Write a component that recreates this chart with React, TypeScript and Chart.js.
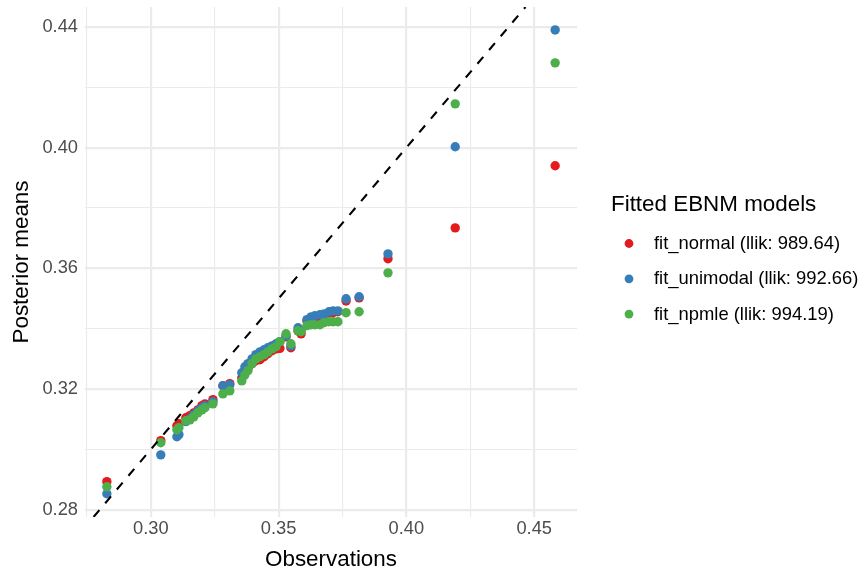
import React, { useEffect, useRef } from "react";
import { Chart, registerables } from "chart.js";

Chart.register(...registerables);

// ---- data ----
const observations = [
  0.2828, 0.3039, 0.3102, 0.311, 0.3137, 0.3153, 0.3168, 0.3184, 0.32, 0.3212,
  0.3243, 0.3282, 0.3309, 0.3356, 0.3368, 0.338, 0.3396, 0.3411, 0.3427, 0.3443,
  0.3458, 0.3474, 0.349, 0.3505, 0.3529, 0.3548, 0.3576, 0.3588, 0.3611, 0.3627,
  0.3642, 0.3662, 0.3678, 0.3697, 0.3713, 0.3732, 0.3764, 0.3815, 0.3928, 0.4191,
  0.4582,
];
const fitNormal = [
  0.2893, 0.3029, 0.3078, 0.3085, 0.3105, 0.3112, 0.3121, 0.3131, 0.3145, 0.3151,
  0.3165, 0.3211, 0.3218, 0.3237, 0.3257, 0.3267, 0.3284, 0.3294, 0.3297, 0.3307,
  0.3317, 0.3327, 0.3333, 0.3335, 0.3373, 0.3337, 0.3393, 0.3383, 0.3426, 0.343,
  0.3436, 0.3439, 0.3446, 0.3453, 0.3453, 0.3456, 0.3492, 0.3502, 0.3632, 0.3734,
  0.394,
];
const fitUnimodal = [
  0.2853, 0.2982, 0.3042, 0.3049, 0.3092, 0.3102, 0.3115, 0.3128, 0.3138, 0.3145,
  0.3158, 0.3211, 0.3214, 0.3254, 0.3274, 0.3284, 0.33, 0.3314, 0.3323, 0.333,
  0.3337, 0.3343, 0.335, 0.3357, 0.3376, 0.3343, 0.3403, 0.3393, 0.343, 0.3439,
  0.3443, 0.3446, 0.3449, 0.3456, 0.3459, 0.3459, 0.3499, 0.3506, 0.3648, 0.4003,
  0.439,
];
const fitNpmle = [
  0.2876, 0.3022, 0.3065, 0.3072, 0.3095, 0.3098, 0.3108, 0.3121, 0.3131, 0.3138,
  0.3151, 0.3184, 0.3194, 0.3227, 0.3247, 0.3261, 0.3284, 0.33, 0.3307, 0.3314,
  0.3323, 0.3333, 0.334, 0.3357, 0.3383, 0.335, 0.3393, 0.339, 0.341, 0.3413,
  0.3413, 0.3413, 0.342, 0.3423, 0.3423, 0.3423, 0.3453, 0.3456, 0.3585, 0.4145,
  0.4281,
];
const seriesLabels = [
  "fit_normal (llik: 989.64)",
  "fit_unimodal (llik: 992.66)",
  "fit_npmle (llik: 994.19)",
];
const seriesColors = ["#E41A1C", "#377EB8", "#4DAF4A"];
const legendTitle = "Fitted EBNM models";
const xTitle = "Observations";
const yTitle = "Posterior means";
const xMajorTicks = [0.3, 0.35, 0.4, 0.45];
const xMinorTicks = [0.275, 0.325, 0.375, 0.425];
const yMajorTicks = [0.28, 0.32, 0.36, 0.4, 0.44];
const yMinorTicks = [0.3, 0.34, 0.38, 0.42];
const xLimits = [0.27425, 0.46675];
const yLimits = [0.2776, 0.4466];

const FONT = '"Liberation Sans", Arial, Helvetica, sans-serif';

const isIn = (arr: number[], v: number) => arr.some((m) => Math.abs(m - v) < 1e-9);

const toPoints = (ys: number[]) => observations.map((x, i) => ({ x, y: ys[i] }));

const legendPlugin = {
  id: "ggLegend",
  afterDraw(chart: any) {
    const { ctx, chartArea } = chart;
    const x0 = chartArea.right + 34;
    ctx.save();
    ctx.textAlign = "left";
    ctx.textBaseline = "middle";
    ctx.fillStyle = "#000000";
    ctx.font = `22.4px ${FONT}`;
    ctx.fillText(legendTitle, x0, 205);
    ctx.font = `18.4px ${FONT}`;
    const sets = chart.data.datasets.filter((d: any) => d.isSeries);
    sets.forEach((d: any, i: number) => {
      const y = 243.5 + i * 35.3;
      ctx.beginPath();
      ctx.fillStyle = d.backgroundColor;
      ctx.arc(x0 + 18, y, 4.4, 0, Math.PI * 2);
      ctx.fill();
      ctx.fillStyle = "#000000";
      ctx.fillText(d.label, x0 + 43, y + 0.5);
    });
    ctx.restore();
  },
};

export default function App() {
  const canvasRef = useRef<HTMLCanvasElement | null>(null);

  useEffect(() => {
    if (!canvasRef.current) return;
    const seriesData = [fitNormal, fitUnimodal, fitNpmle];
    const datasets: any[] = seriesData.map((ys, i) => ({
      type: "scatter",
      label: seriesLabels[i],
      isSeries: true,
      data: toPoints(ys),
      backgroundColor: seriesColors[i],
      borderWidth: 0,
      pointRadius: 4.7,
      pointHoverRadius: 4.7,
      order: 4 - i,
    }));
    const lo = Math.max(xLimits[0], yLimits[0]);
    const hi = Math.min(xLimits[1], yLimits[1]);
    datasets.push({
      type: "line",
      label: "identity",
      isSeries: false,
      data: [
        { x: lo, y: lo },
        { x: hi, y: hi },
      ],
      borderColor: "#000000",
      borderWidth: 2.1,
      borderDash: [9, 9],
      pointRadius: 0,
      fill: false,
      order: 0,
    });

    const chart = new Chart(canvasRef.current, {
      type: "scatter",
      data: { datasets },
      plugins: [legendPlugin],
      options: {
        animation: false,
        responsive: false,
        devicePixelRatio: 1,
        layout: { padding: { top: 7, right: 284, bottom: 0, left: 0 } },
        plugins: {
          legend: { display: false },
          tooltip: { enabled: false },
          title: { display: false },
        },
        scales: {
          x: {
            type: "linear",
            min: xLimits[0],
            max: xLimits[1],
            afterBuildTicks: (scale: any) => {
              scale.ticks = [...xMajorTicks, ...xMinorTicks]
                .sort((a, b) => a - b)
                .map((v) => ({ value: v }));
            },
            afterFit: (scale: any) => {
              scale.height = 57;
              scale.paddingLeft = 0;
              scale.paddingRight = 0;
            },
            ticks: {
              autoSkip: false,
              maxRotation: 0,
              padding: 1,
              color: "#4D4D4D",
              font: { family: FONT, size: 18.3 },
              callback: (v: any) => (isIn(xMajorTicks, Number(v)) ? Number(v).toFixed(2) : ""),
            },
            grid: {
              color: "#EBEBEB",
              lineWidth: (c: any) => (c.tick && isIn(xMajorTicks, c.tick.value) ? 2.2 : 1.1),
              drawTicks: false,
            },
            border: { display: false },
            title: {
              display: true,
              text: xTitle,
              color: "#000000",
              font: { family: FONT, size: 22.4 },
              padding: { top: 0, bottom: 0.5 },
            },
          },
          y: {
            type: "linear",
            min: yLimits[0],
            max: yLimits[1],
            afterBuildTicks: (scale: any) => {
              scale.ticks = [...yMajorTicks, ...yMinorTicks]
                .sort((a, b) => a - b)
                .map((v) => ({ value: v }));
            },
            afterFit: (scale: any) => {
              scale.width = 85;
              scale.paddingTop = 0;
              scale.paddingBottom = 0;
            },
            ticks: {
              autoSkip: false,
              padding: 7,
              color: "#4D4D4D",
              font: { family: FONT, size: 18.3 },
              callback: (v: any) => (isIn(yMajorTicks, Number(v)) ? Number(v).toFixed(2) : ""),
            },
            grid: {
              color: "#EBEBEB",
              lineWidth: (c: any) => (c.tick && isIn(yMajorTicks, c.tick.value) ? 2.2 : 1.1),
              drawTicks: false,
            },
            border: { display: false },
            title: {
              display: true,
              text: yTitle,
              color: "#000000",
              font: { family: FONT, size: 22.4 },
              padding: { top: 8.5, bottom: 0 },
            },
          },
        },
      } as any,
    });
    return () => chart.destroy();
  }, []);

  return (
    <div style={{ position: "fixed", left: 0, top: 0, width: 861, height: 574, background: "#FFFFFF" }}>
      <canvas ref={canvasRef} width={861} height={574} style={{ display: "block" }} />
    </div>
  );
}
